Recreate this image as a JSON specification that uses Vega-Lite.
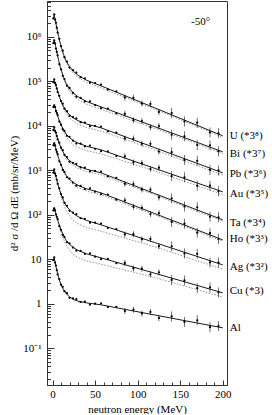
{
"$schema": "https://vega.github.io/schema/vega-lite/v6.json",
"width": 180, "height": 384,
"padding": {"left": 8, "top": 1, "right": 0, "bottom": 0},
"autosize": {"type": "pad"},
"config": {
  "font": "Liberation Serif",
  "axis": {"labelFont": "Liberation Serif", "titleFont": "Liberation Serif", "labelFontSize": 11, "titleFontSize": 11, "titleFontWeight": "normal", "labelColor": "#000", "titleColor": "#000", "domainColor": "#333", "tickColor": "#333", "grid": false},
  "view": {"stroke": "#333", "strokeWidth": 1},
  "text": {"font": "Liberation Serif"}
},
"datasets": {
"calc": [
{"el":"U","k":"c","E":1,"v":2590000},{"el":"U","k":"c","E":2,"v":3120000},{"el":"U","k":"c","E":3,"v":2500000},{"el":"U","k":"c","E":4,"v":2010000},{"el":"U","k":"c","E":6,"v":1290000},{"el":"U","k":"c","E":8,"v":863000},{"el":"U","k":"c","E":10,"v":619000},{"el":"U","k":"c","E":13,"v":399000},{"el":"U","k":"c","E":16,"v":286000},{"el":"U","k":"c","E":20,"v":214000},{"el":"U","k":"c","E":25,"v":165000},{"el":"U","k":"c","E":30,"v":137000},{"el":"U","k":"c","E":40,"v":106000},{"el":"U","k":"c","E":57,"v":79200},{"el":"U","k":"c","E":120,"v":25400},{"el":"U","k":"c","E":200,"v":5960},
{"el":"Bi","k":"c","E":1,"v":721000},{"el":"Bi","k":"c","E":2,"v":857000},{"el":"Bi","k":"c","E":3,"v":697000},{"el":"Bi","k":"c","E":4,"v":565000},{"el":"Bi","k":"c","E":6,"v":373000},{"el":"Bi","k":"c","E":8,"v":255000},{"el":"Bi","k":"c","E":10,"v":186000},{"el":"Bi","k":"c","E":13,"v":123000},{"el":"Bi","k":"c","E":16,"v":89900},{"el":"Bi","k":"c","E":20,"v":68200},{"el":"Bi","k":"c","E":25,"v":53500},{"el":"Bi","k":"c","E":30,"v":45000},{"el":"Bi","k":"c","E":40,"v":35200},{"el":"Bi","k":"c","E":57,"v":26700},{"el":"Bi","k":"c","E":120,"v":9590},{"el":"Bi","k":"c","E":200,"v":2610},
{"el":"Pb","k":"c","E":1,"v":95500},{"el":"Pb","k":"c","E":2,"v":108000},{"el":"Pb","k":"c","E":3,"v":93100},{"el":"Pb","k":"c","E":4,"v":80400},{"el":"Pb","k":"c","E":6,"v":59600},{"el":"Pb","k":"c","E":8,"v":45300},{"el":"Pb","k":"c","E":10,"v":36200},{"el":"Pb","k":"c","E":13,"v":26900},{"el":"Pb","k":"c","E":16,"v":21500},{"el":"Pb","k":"c","E":20,"v":17600},{"el":"Pb","k":"c","E":25,"v":14800},{"el":"Pb","k":"c","E":30,"v":13100},{"el":"Pb","k":"c","E":40,"v":11000},{"el":"Pb","k":"c","E":57,"v":9020},{"el":"Pb","k":"c","E":120,"v":3240},{"el":"Pb","k":"c","E":200,"v":879},
{"el":"Au","k":"c","E":1,"v":26400},{"el":"Au","k":"c","E":2,"v":29600},{"el":"Au","k":"c","E":3,"v":25800},{"el":"Au","k":"c","E":4,"v":22400},{"el":"Au","k":"c","E":6,"v":16900},{"el":"Au","k":"c","E":8,"v":13100},{"el":"Au","k":"c","E":10,"v":10600},{"el":"Au","k":"c","E":13,"v":8050},{"el":"Au","k":"c","E":16,"v":6530},{"el":"Au","k":"c","E":20,"v":5420},{"el":"Au","k":"c","E":25,"v":4600},{"el":"Au","k":"c","E":30,"v":4100},{"el":"Au","k":"c","E":40,"v":3480},{"el":"Au","k":"c","E":57,"v":2890},{"el":"Au","k":"c","E":120,"v":1110},{"el":"Au","k":"c","E":200,"v":329},
{"el":"Ta","k":"c","E":1,"v":8020},{"el":"Ta","k":"c","E":2,"v":9020},{"el":"Ta","k":"c","E":3,"v":7830},{"el":"Ta","k":"c","E":4,"v":6820},{"el":"Ta","k":"c","E":6,"v":5150},{"el":"Ta","k":"c","E":8,"v":3990},{"el":"Ta","k":"c","E":10,"v":3240},{"el":"Ta","k":"c","E":13,"v":2450},{"el":"Ta","k":"c","E":16,"v":1990},{"el":"Ta","k":"c","E":20,"v":1650},{"el":"Ta","k":"c","E":25,"v":1400},{"el":"Ta","k":"c","E":30,"v":1250},{"el":"Ta","k":"c","E":40,"v":1060},{"el":"Ta","k":"c","E":57,"v":879},{"el":"Ta","k":"c","E":120,"v":301},{"el":"Ta","k":"c","E":200,"v":77.3},
{"el":"Ho","k":"c","E":1,"v":3650},{"el":"Ho","k":"c","E":2,"v":4150},{"el":"Ho","k":"c","E":3,"v":3560},{"el":"Ho","k":"c","E":4,"v":3040},{"el":"Ho","k":"c","E":6,"v":2230},{"el":"Ho","k":"c","E":8,"v":1680},{"el":"Ho","k":"c","E":10,"v":1330},{"el":"Ho","k":"c","E":13,"v":975},{"el":"Ho","k":"c","E":16,"v":771},{"el":"Ho","k":"c","E":20,"v":627},{"el":"Ho","k":"c","E":25,"v":524},{"el":"Ho","k":"c","E":30,"v":460},{"el":"Ho","k":"c","E":40,"v":384},{"el":"Ho","k":"c","E":57,"v":312},{"el":"Ho","k":"c","E":120,"v":107},{"el":"Ho","k":"c","E":200,"v":27.4},
{"el":"Ag","k":"c","E":1,"v":889},{"el":"Ag","k":"c","E":2,"v":1030},{"el":"Ag","k":"c","E":3,"v":865},{"el":"Ag","k":"c","E":4,"v":729},{"el":"Ag","k":"c","E":6,"v":518},{"el":"Ag","k":"c","E":8,"v":378},{"el":"Ag","k":"c","E":10,"v":293},{"el":"Ag","k":"c","E":13,"v":208},{"el":"Ag","k":"c","E":16,"v":161},{"el":"Ag","k":"c","E":20,"v":129},{"el":"Ag","k":"c","E":25,"v":105},{"el":"Ag","k":"c","E":30,"v":91.2},{"el":"Ag","k":"c","E":40,"v":74.8},{"el":"Ag","k":"c","E":57,"v":59.6},{"el":"Ag","k":"c","E":120,"v":23.9},{"el":"Ag","k":"c","E":200,"v":7.52},
{"el":"Cu","k":"c","E":1,"v":126},{"el":"Cu","k":"c","E":2,"v":144},{"el":"Cu","k":"c","E":3,"v":123},{"el":"Cu","k":"c","E":4,"v":105},{"el":"Cu","k":"c","E":6,"v":77.1},{"el":"Cu","k":"c","E":8,"v":58.1},{"el":"Cu","k":"c","E":10,"v":46.0},{"el":"Cu","k":"c","E":13,"v":33.7},{"el":"Cu","k":"c","E":16,"v":26.7},{"el":"Cu","k":"c","E":20,"v":21.7},{"el":"Cu","k":"c","E":25,"v":18.2},{"el":"Cu","k":"c","E":30,"v":15.9},{"el":"Cu","k":"c","E":40,"v":13.3},{"el":"Cu","k":"c","E":57,"v":10.8},{"el":"Cu","k":"c","E":120,"v":4.88},{"el":"Cu","k":"c","E":200,"v":1.77},
{"el":"Al","k":"c","E":1,"v":9.64},{"el":"Al","k":"c","E":2,"v":10.8},{"el":"Al","k":"c","E":3,"v":8.69},{"el":"Al","k":"c","E":4,"v":6.98},{"el":"Al","k":"c","E":6,"v":4.73},{"el":"Al","k":"c","E":8,"v":3.45},{"el":"Al","k":"c","E":10,"v":2.70},{"el":"Al","k":"c","E":13,"v":2.07},{"el":"Al","k":"c","E":16,"v":1.70},{"el":"Al","k":"c","E":20,"v":1.44},{"el":"Al","k":"c","E":25,"v":1.24},{"el":"Al","k":"c","E":30,"v":1.15},{"el":"Al","k":"c","E":40,"v":1.05},{"el":"Al","k":"c","E":57,"v":0.95},{"el":"Al","k":"c","E":120,"v":0.562},{"el":"Al","k":"c","E":200,"v":0.289},
{"el":"U","k":"d","E":2,"v":3120000},{"el":"U","k":"d","E":4,"v":2000000},{"el":"U","k":"d","E":6,"v":1270000},{"el":"U","k":"d","E":8,"v":839000},{"el":"U","k":"d","E":10,"v":595000},{"el":"U","k":"d","E":13,"v":377000},{"el":"U","k":"d","E":16,"v":266000},{"el":"U","k":"d","E":20,"v":195000},{"el":"U","k":"d","E":25,"v":147000},{"el":"U","k":"d","E":30,"v":122000},{"el":"U","k":"d","E":40,"v":94800},{"el":"U","k":"d","E":57,"v":71400},{"el":"U","k":"d","E":120,"v":23700},{"el":"U","k":"d","E":200,"v":5560},
{"el":"Bi","k":"d","E":2,"v":857000},{"el":"Bi","k":"d","E":4,"v":561000},{"el":"Bi","k":"d","E":6,"v":366000},{"el":"Bi","k":"d","E":8,"v":246000},{"el":"Bi","k":"d","E":10,"v":177000},{"el":"Bi","k":"d","E":13,"v":115000},{"el":"Bi","k":"d","E":16,"v":82200},{"el":"Bi","k":"d","E":20,"v":61100},{"el":"Bi","k":"d","E":25,"v":46600},{"el":"Bi","k":"d","E":30,"v":39200},{"el":"Bi","k":"d","E":40,"v":30700},{"el":"Bi","k":"d","E":57,"v":23600},{"el":"Bi","k":"d","E":120,"v":8830},{"el":"Bi","k":"d","E":200,"v":2400},
{"el":"Pb","k":"d","E":2,"v":108000},{"el":"Pb","k":"d","E":4,"v":79600},{"el":"Pb","k":"d","E":6,"v":57900},{"el":"Pb","k":"d","E":8,"v":43300},{"el":"Pb","k":"d","E":10,"v":34000},{"el":"Pb","k":"d","E":13,"v":24500},{"el":"Pb","k":"d","E":16,"v":19100},{"el":"Pb","k":"d","E":20,"v":15200},{"el":"Pb","k":"d","E":25,"v":12300},{"el":"Pb","k":"d","E":30,"v":10900},{"el":"Pb","k":"d","E":40,"v":9140},{"el":"Pb","k":"d","E":57,"v":7640},{"el":"Pb","k":"d","E":120,"v":2900},{"el":"Pb","k":"d","E":200,"v":787},
{"el":"Au","k":"d","E":2,"v":29600},{"el":"Au","k":"d","E":4,"v":22200},{"el":"Au","k":"d","E":6,"v":16400},{"el":"Au","k":"d","E":8,"v":12400},{"el":"Au","k":"d","E":10,"v":9820},{"el":"Au","k":"d","E":13,"v":7180},{"el":"Au","k":"d","E":16,"v":5620},{"el":"Au","k":"d","E":20,"v":4510},{"el":"Au","k":"d","E":25,"v":3660},{"el":"Au","k":"d","E":30,"v":3260},{"el":"Au","k":"d","E":40,"v":2770},{"el":"Au","k":"d","E":57,"v":2350},{"el":"Au","k":"d","E":120,"v":968},{"el":"Au","k":"d","E":200,"v":286},
{"el":"Ta","k":"d","E":2,"v":9020},{"el":"Ta","k":"d","E":4,"v":6780},{"el":"Ta","k":"d","E":6,"v":5060},{"el":"Ta","k":"d","E":8,"v":3880},{"el":"Ta","k":"d","E":10,"v":3110},{"el":"Ta","k":"d","E":13,"v":2310},{"el":"Ta","k":"d","E":16,"v":1840},{"el":"Ta","k":"d","E":20,"v":1500},{"el":"Ta","k":"d","E":25,"v":1250},{"el":"Ta","k":"d","E":30,"v":1110},{"el":"Ta","k":"d","E":40,"v":944},{"el":"Ta","k":"d","E":57,"v":793},{"el":"Ta","k":"d","E":120,"v":281},{"el":"Ta","k":"d","E":200,"v":72.1},
{"el":"Ho","k":"d","E":2,"v":4150},{"el":"Ho","k":"d","E":4,"v":3020},{"el":"Ho","k":"d","E":6,"v":2190},{"el":"Ho","k":"d","E":8,"v":1630},{"el":"Ho","k":"d","E":10,"v":1280},{"el":"Ho","k":"d","E":13,"v":920},{"el":"Ho","k":"d","E":16,"v":715},{"el":"Ho","k":"d","E":20,"v":571},{"el":"Ho","k":"d","E":25,"v":467},{"el":"Ho","k":"d","E":30,"v":410},{"el":"Ho","k":"d","E":40,"v":342},{"el":"Ho","k":"d","E":57,"v":281},{"el":"Ho","k":"d","E":120,"v":99.8},{"el":"Ho","k":"d","E":200,"v":25.6},
{"el":"Ag","k":"d","E":2,"v":1030},{"el":"Ag","k":"d","E":4,"v":716},{"el":"Ag","k":"d","E":6,"v":490},{"el":"Ag","k":"d","E":8,"v":345},{"el":"Ag","k":"d","E":10,"v":258},{"el":"Ag","k":"d","E":13,"v":173},{"el":"Ag","k":"d","E":16,"v":127},{"el":"Ag","k":"d","E":20,"v":95.7},{"el":"Ag","k":"d","E":25,"v":72.8},{"el":"Ag","k":"d","E":30,"v":63.1},{"el":"Ag","k":"d","E":40,"v":51.8},{"el":"Ag","k":"d","E":57,"v":42.8},{"el":"Ag","k":"d","E":120,"v":19.2},{"el":"Ag","k":"d","E":200,"v":6.03},
{"el":"Cu","k":"d","E":2,"v":144},{"el":"Cu","k":"d","E":4,"v":103},{"el":"Cu","k":"d","E":6,"v":72.9},{"el":"Cu","k":"d","E":8,"v":53.0},{"el":"Cu","k":"d","E":10,"v":40.5},{"el":"Cu","k":"d","E":13,"v":28.1},{"el":"Cu","k":"d","E":16,"v":21.0},{"el":"Cu","k":"d","E":20,"v":16.2},{"el":"Cu","k":"d","E":25,"v":12.6},{"el":"Cu","k":"d","E":30,"v":11.0},{"el":"Cu","k":"d","E":40,"v":9.20},{"el":"Cu","k":"d","E":57,"v":7.76},{"el":"Cu","k":"d","E":120,"v":3.91},{"el":"Cu","k":"d","E":200,"v":1.42}
],
"pts": [
{"el":"U","E":1,"v":2590000},{"el":"U","E":2,"v":3190000},{"el":"U","E":3,"v":2440000},{"el":"U","E":4,"v":2080000},{"el":"U","E":5,"v":1610000},{"el":"U","E":6,"v":1250000},{"el":"U","E":8,"v":904000},{"el":"U","E":10,"v":619000},{"el":"U","E":12,"v":490000},{"el":"U","E":14,"v":349000},{"el":"U","E":17,"v":279000},{"el":"U","E":20,"v":204000},{"el":"U","E":24,"v":178000},{"el":"U","E":28,"v":158000},{"el":"U","E":33,"v":124000},{"el":"U","E":38,"v":117000},{"el":"U","E":44,"v":93500},{"el":"U","E":50,"v":91600},{"el":"U","E":57,"v":84900},{"el":"U","E":65,"v":65500},{"el":"U","E":75,"v":59800},{"el":"U","E":85,"v":43600},{"el":"U","E":95,"v":42700},{"el":"U","E":105,"v":31700},{"el":"U","E":115,"v":31100},{"el":"U","E":125,"v":20600},{"el":"U","E":140,"v":19400},{"el":"U","E":155,"v":12600},{"el":"U","E":170,"v":11800},{"el":"U","E":185,"v":7130},{"el":"U","E":195,"v":6820},
{"el":"Bi","E":1,"v":721000},{"el":"Bi","E":2,"v":838000},{"el":"Bi","E":3,"v":713000},{"el":"Bi","E":4,"v":546000},{"el":"Bi","E":5,"v":459000},{"el":"Bi","E":6,"v":386000},{"el":"Bi","E":8,"v":243000},{"el":"Bi","E":10,"v":186000},{"el":"Bi","E":12,"v":133000},{"el":"Bi","E":14,"v":113000},{"el":"Bi","E":17,"v":80200},{"el":"Bi","E":20,"v":71400},{"el":"Bi","E":24,"v":54800},{"el":"Bi","E":28,"v":45000},{"el":"Bi","E":33,"v":42800},{"el":"Bi","E":38,"v":35400},{"el":"Bi","E":44,"v":35700},{"el":"Bi","E":50,"v":29300},{"el":"Bi","E":57,"v":24900},{"el":"Bi","E":65,"v":24500},{"el":"Bi","E":75,"v":19100},{"el":"Bi","E":85,"v":18600},{"el":"Bi","E":95,"v":13400},{"el":"Bi","E":105,"v":12800},{"el":"Bi","E":115,"v":9270},{"el":"Bi","E":125,"v":9910},{"el":"Bi","E":140,"v":6320},{"el":"Bi","E":155,"v":5810},{"el":"Bi","E":170,"v":3700},{"el":"Bi","E":185,"v":3650},{"el":"Bi","E":195,"v":2700},
{"el":"Pb","E":1,"v":95500},{"el":"Pb","E":2,"v":111000},{"el":"Pb","E":3,"v":91000},{"el":"Pb","E":4,"v":83200},{"el":"Pb","E":5,"v":69200},{"el":"Pb","E":6,"v":57500},{"el":"Pb","E":8,"v":47400},{"el":"Pb","E":10,"v":36200},{"el":"Pb","E":12,"v":31500},{"el":"Pb","E":14,"v":24400},{"el":"Pb","E":17,"v":21400},{"el":"Pb","E":20,"v":16800},{"el":"Pb","E":24,"v":15700},{"el":"Pb","E":28,"v":14700},{"el":"Pb","E":33,"v":12100},{"el":"Pb","E":38,"v":11900},{"el":"Pb","E":44,"v":9860},{"el":"Pb","E":50,"v":10000},{"el":"Pb","E":57,"v":9660},{"el":"Pb","E":65,"v":7550},{"el":"Pb","E":75,"v":7050},{"el":"Pb","E":85,"v":5210},{"el":"Pb","E":95,"v":5200},{"el":"Pb","E":105,"v":3940},{"el":"Pb","E":115,"v":3940},{"el":"Pb","E":125,"v":2650},{"el":"Pb","E":140,"v":2560},{"el":"Pb","E":155,"v":1710},{"el":"Pb","E":170,"v":1640},{"el":"Pb","E":185,"v":1020},{"el":"Pb","E":195,"v":998},
{"el":"Au","E":1,"v":26400},{"el":"Au","E":2,"v":29000},{"el":"Au","E":3,"v":26400},{"el":"Au","E":4,"v":21700},{"el":"Au","E":5,"v":19500},{"el":"Au","E":6,"v":17500},{"el":"Au","E":8,"v":12500},{"el":"Au","E":10,"v":10600},{"el":"Au","E":12,"v":8340},{"el":"Au","E":14,"v":7690},{"el":"Au","E":17,"v":5960},{"el":"Au","E":20,"v":5680},{"el":"Au","E":24,"v":4650},{"el":"Au","E":28,"v":4010},{"el":"Au","E":33,"v":3990},{"el":"Au","E":38,"v":3440},{"el":"Au","E":44,"v":3600},{"el":"Au","E":50,"v":3050},{"el":"Au","E":57,"v":2700},{"el":"Au","E":65,"v":2680},{"el":"Au","E":75,"v":2100},{"el":"Au","E":85,"v":2070},{"el":"Au","E":95,"v":1510},{"el":"Au","E":105,"v":1460},{"el":"Au","E":115,"v":1070},{"el":"Au","E":125,"v":1150},{"el":"Au","E":140,"v":746},{"el":"Au","E":155,"v":698},{"el":"Au","E":170,"v":452},{"el":"Au","E":185,"v":453},{"el":"Au","E":195,"v":339},
{"el":"Ta","E":1,"v":8020},{"el":"Ta","E":2,"v":9230},{"el":"Ta","E":3,"v":7660},{"el":"Ta","E":4,"v":7060},{"el":"Ta","E":5,"v":5930},{"el":"Ta","E":6,"v":4980},{"el":"Ta","E":8,"v":4180},{"el":"Ta","E":10,"v":3240},{"el":"Ta","E":12,"v":2840},{"el":"Ta","E":14,"v":2230},{"el":"Ta","E":17,"v":1990},{"el":"Ta","E":20,"v":1570},{"el":"Ta","E":24,"v":1480},{"el":"Ta","E":28,"v":1400},{"el":"Ta","E":33,"v":1160},{"el":"Ta","E":38,"v":1150},{"el":"Ta","E":44,"v":953},{"el":"Ta","E":50,"v":971},{"el":"Ta","E":57,"v":942},{"el":"Ta","E":65,"v":733},{"el":"Ta","E":75,"v":678},{"el":"Ta","E":85,"v":498},{"el":"Ta","E":95,"v":493},{"el":"Ta","E":105,"v":371},{"el":"Ta","E":115,"v":367},{"el":"Ta","E":125,"v":246},{"el":"Ta","E":140,"v":236},{"el":"Ta","E":155,"v":155},{"el":"Ta","E":170,"v":148},{"el":"Ta","E":185,"v":91.0},{"el":"Ta","E":195,"v":88.1},
{"el":"Ho","E":1,"v":3650},{"el":"Ho","E":2,"v":4060},{"el":"Ho","E":3,"v":3640},{"el":"Ho","E":4,"v":2940},{"el":"Ho","E":5,"v":2610},{"el":"Ho","E":6,"v":2310},{"el":"Ho","E":8,"v":1600},{"el":"Ho","E":10,"v":1330},{"el":"Ho","E":12,"v":1020},{"el":"Ho","E":14,"v":923},{"el":"Ho","E":17,"v":700},{"el":"Ho","E":20,"v":656},{"el":"Ho","E":24,"v":531},{"el":"Ho","E":28,"v":452},{"el":"Ho","E":33,"v":446},{"el":"Ho","E":38,"v":380},{"el":"Ho","E":44,"v":394},{"el":"Ho","E":50,"v":332},{"el":"Ho","E":57,"v":291},{"el":"Ho","E":65,"v":285},{"el":"Ho","E":75,"v":219},{"el":"Ho","E":85,"v":212},{"el":"Ho","E":95,"v":152},{"el":"Ho","E":105,"v":144},{"el":"Ho","E":115,"v":104},{"el":"Ho","E":125,"v":110},{"el":"Ho","E":140,"v":69.5},{"el":"Ho","E":155,"v":63.2},{"el":"Ho","E":170,"v":39.8},{"el":"Ho","E":185,"v":38.8},{"el":"Ho","E":195,"v":28.5},
{"el":"Ag","E":1,"v":889},{"el":"Ag","E":2,"v":1050},{"el":"Ag","E":3,"v":845},{"el":"Ag","E":4,"v":755},{"el":"Ag","E":5,"v":615},{"el":"Ag","E":6,"v":500},{"el":"Ag","E":8,"v":396},{"el":"Ag","E":10,"v":293},{"el":"Ag","E":12,"v":247},{"el":"Ag","E":14,"v":187},{"el":"Ag","E":17,"v":160},{"el":"Ag","E":20,"v":123},{"el":"Ag","E":24,"v":112},{"el":"Ag","E":28,"v":104},{"el":"Ag","E":33,"v":83.9},{"el":"Ag","E":38,"v":81.5},{"el":"Ag","E":44,"v":66.7},{"el":"Ag","E":50,"v":67.0},{"el":"Ag","E":57,"v":63.8},{"el":"Ag","E":65,"v":50.7},{"el":"Ag","E":75,"v":48.1},{"el":"Ag","E":85,"v":36.2},{"el":"Ag","E":95,"v":36.8},{"el":"Ag","E":105,"v":28.4},{"el":"Ag","E":115,"v":28.8},{"el":"Ag","E":125,"v":19.8},{"el":"Ag","E":140,"v":19.7},{"el":"Ag","E":155,"v":13.5},{"el":"Ag","E":170,"v":13.3},{"el":"Ag","E":185,"v":8.51},{"el":"Ag","E":195,"v":8.45},
{"el":"Cu","E":1,"v":126},{"el":"Cu","E":2,"v":140},{"el":"Cu","E":3,"v":126},{"el":"Cu","E":4,"v":102},{"el":"Cu","E":5,"v":90.2},{"el":"Cu","E":6,"v":79.8},{"el":"Cu","E":8,"v":55.5},{"el":"Cu","E":10,"v":46.0},{"el":"Cu","E":12,"v":35.3},{"el":"Cu","E":14,"v":31.9},{"el":"Cu","E":17,"v":24.3},{"el":"Cu","E":20,"v":22.8},{"el":"Cu","E":24,"v":18.4},{"el":"Cu","E":28,"v":15.7},{"el":"Cu","E":33,"v":15.5},{"el":"Cu","E":38,"v":13.2},{"el":"Cu","E":44,"v":13.7},{"el":"Cu","E":50,"v":11.5},{"el":"Cu","E":57,"v":10.1},{"el":"Cu","E":65,"v":10.2},{"el":"Cu","E":75,"v":8.22},{"el":"Cu","E":85,"v":8.32},{"el":"Cu","E":95,"v":6.24},{"el":"Cu","E":105,"v":6.17},{"el":"Cu","E":115,"v":4.61},{"el":"Cu","E":125,"v":5.12},{"el":"Cu","E":140,"v":3.45},{"el":"Cu","E":155,"v":3.35},{"el":"Cu","E":170,"v":2.25},{"el":"Cu","E":185,"v":2.34},{"el":"Cu","E":195,"v":1.80},
{"el":"Al","E":1,"v":9.57},{"el":"Al","E":2,"v":11.1},{"el":"Al","E":3,"v":8.49},{"el":"Al","E":4,"v":7.23},{"el":"Al","E":5,"v":5.74},{"el":"Al","E":6,"v":4.57},{"el":"Al","E":8,"v":3.61},{"el":"Al","E":10,"v":2.70},{"el":"Al","E":12,"v":2.42},{"el":"Al","E":14,"v":1.93},{"el":"Al","E":17,"v":1.74},{"el":"Al","E":20,"v":1.37},{"el":"Al","E":24,"v":1.32},{"el":"Al","E":28,"v":1.28},{"el":"Al","E":33,"v":1.10},{"el":"Al","E":38,"v":1.12},{"el":"Al","E":44,"v":0.955},{"el":"Al","E":50,"v":1.01},{"el":"Al","E":57,"v":1.02},{"el":"Al","E":65,"v":0.849},{"el":"Al","E":75,"v":0.857},{"el":"Al","E":85,"v":0.687},{"el":"Al","E":95,"v":0.741},{"el":"Al","E":105,"v":0.608},{"el":"Al","E":115,"v":0.658},{"el":"Al","E":125,"v":0.481},{"el":"Al","E":140,"v":0.522},{"el":"Al","E":155,"v":0.393},{"el":"Al","E":170,"v":0.427},{"el":"Al","E":185,"v":0.299},{"el":"Al","E":195,"v":0.316}
],
"labels": [
{"t":"U (*3⁸)","E":200,"v":5960},{"t":"Bi (*3⁷)","E":200,"v":2350},{"t":"Pb (*3⁶)","E":200,"v":834},{"t":"Au (*3⁵)","E":200,"v":296},{"t":"Ta (*3⁴)","E":200,"v":66.1},{"t":"Ho (*3³)","E":200,"v":28.9},{"t":"Ag (*3²)","E":200,"v":6.78},{"t":"Cu (*3)","E":200,"v":1.96},{"t":"Al","E":200,"v":0.289}
],
"note": [{"t":"-50°","E":174,"v":2170000}]
},
"resolve": {"axis": {"x": "independent", "y": "independent"}},
"layer": [
{"data": {"name": "calc"}, "transform": [{"filter": "datum.k == 'c'"}],
 "mark": {"type": "line", "color": "#000", "strokeWidth": 0.9},
 "encoding": {
  "x": {"field": "E", "type": "quantitative", "scale": {"domain": [-6.5, 205], "nice": false, "zero": false},
        "axis": {"values": [0, 50, 100, 150, 200], "tickSize": -5, "labelPadding": 8, "title": "neutron energy (MeV)", "titlePadding": 4, "labelFlush": false, "labelOverlap": false, "orient": "bottom"}},
  "y": {"field": "v", "type": "quantitative", "scale": {"type": "log", "domain": [0.015, 6400000], "nice": false},
        "axis": {"values": [0.1, 1, 10, 100, 1000, 10000, 100000, 1000000], "tickSize": -7, "labelPadding": 13, "labelOverlap": false,
                 "labelExpr": "['10⁻¹','1','10','10²','10³','10⁴','10⁵','10⁶'][round(log(datum.value)/LN10)+1]",
                 "title": "d² σ /d Ω dE (mb/sr/MeV)", "titlePadding": 3, "orient": "left"}},
  "detail": {"field": "el"}}},
{"data": {"name": "calc"}, "transform": [{"filter": "datum.k == 'd'"}],
 "mark": {"type": "line", "color": "#777", "strokeWidth": 0.8, "strokeDash": [1.5, 1.5]},
 "encoding": {
  "x": {"field": "E", "type": "quantitative", "scale": {"domain": [-6.5, 205], "nice": false, "zero": false},
        "axis": {"values": [10, 20, 30, 40, 60, 70, 80, 90, 110, 120, 130, 140, 160, 170, 180, 190], "tickSize": -3, "labels": false, "domain": false, "title": null, "orient": "bottom"}},
  "y": {"field": "v", "type": "quantitative", "scale": {"type": "log", "domain": [0.015, 6400000], "nice": false},
        "axis": {"values": [0.02,0.03,0.04,0.05,0.06,0.07,0.08,0.09,0.2,0.3,0.4,0.5,0.6,0.7,0.8,0.9,2,3,4,5,6,7,8,9,20,30,40,50,60,70,80,90,200,300,400,500,600,700,800,900,2000,3000,4000,5000,6000,7000,8000,9000,20000,30000,40000,50000,60000,70000,80000,90000,200000,300000,400000,500000,600000,700000,800000,900000,2000000,3000000,4000000,5000000,6000000], "tickSize": -3.5, "labels": false, "domain": false, "title": null, "orient": "left"}},
  "detail": {"field": "el"}}},
{"data": {"name": "pts"},
 "mark": {"type": "point", "filled": true, "size": 5, "color": "#000", "opacity": 1},
 "encoding": {
  "x": {"field": "E", "type": "quantitative", "scale": {"domain": [-6.5, 205], "nice": false, "zero": false}, "axis": null},
  "y": {"field": "v", "type": "quantitative", "scale": {"type": "log", "domain": [0.015, 6400000], "nice": false}, "axis": null}}},
{"data": {"name": "pts"}, "transform": [{"filter": "datum.E >= 85 && datum.E < 140"}],
 "mark": {"type": "tick", "orient": "vertical", "size": 6, "thickness": 0.8, "color": "#000"},
 "encoding": {
  "x": {"field": "E", "type": "quantitative", "scale": {"domain": [-6.5, 205], "nice": false, "zero": false}, "axis": null},
  "y": {"field": "v", "type": "quantitative", "scale": {"type": "log", "domain": [0.015, 6400000], "nice": false}, "axis": null}}},
{"data": {"name": "pts"}, "transform": [{"filter": "datum.E >= 140"}],
 "mark": {"type": "tick", "orient": "vertical", "size": 10, "thickness": 0.8, "color": "#000"},
 "encoding": {
  "x": {"field": "E", "type": "quantitative", "scale": {"domain": [-6.5, 205], "nice": false, "zero": false}, "axis": null},
  "y": {"field": "v", "type": "quantitative", "scale": {"type": "log", "domain": [0.015, 6400000], "nice": false}, "axis": null}}},
{"data": {"name": "labels"},
 "mark": {"type": "text", "align": "left", "baseline": "middle", "dx": 7, "fontSize": 11, "font": "Liberation Serif", "color": "#000"},
 "encoding": {
  "x": {"field": "E", "type": "quantitative", "scale": {"domain": [-6.5, 205], "nice": false, "zero": false}, "axis": null},
  "y": {"field": "v", "type": "quantitative", "scale": {"type": "log", "domain": [0.015, 6400000], "nice": false}, "axis": null},
  "text": {"field": "t"}}},
{"data": {"name": "note"},
 "mark": {"type": "text", "align": "center", "baseline": "middle", "fontSize": 11, "font": "Liberation Serif", "color": "#000"},
 "encoding": {
  "x": {"field": "E", "type": "quantitative", "scale": {"domain": [-6.5, 205], "nice": false, "zero": false}, "axis": null},
  "y": {"field": "v", "type": "quantitative", "scale": {"type": "log", "domain": [0.015, 6400000], "nice": false}, "axis": null},
  "text": {"field": "t"}}}
]
}
